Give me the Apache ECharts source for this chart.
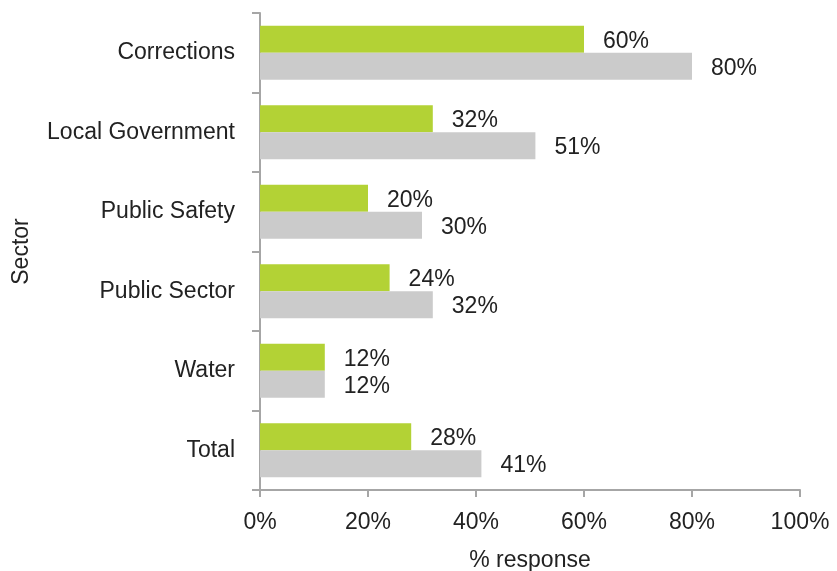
<!DOCTYPE html>
<html>
<head>
<meta charset="utf-8">
<script src="https://cdn.jsdelivr.net/npm/echarts@6/dist/echarts.min.js"></script>
<style>
  html, body { margin: 0; padding: 0; background: #fff; }
  #chart { width: 837px; height: 571px; }
</style>
</head>
<body>
<div id="chart"></div>
<script>
// Sectors, top to bottom
const sectors = ['Corrections', 'Local Government', 'Public Safety', 'Public Sector', 'Water', 'Total'];
// Percent of responses per sector, two groups
const seriesGreen = [60, 32, 20, 24, 12, 28];
const seriesGrey = [80, 51, 30, 32, 12, 41];
const xTicks = [0, 20, 40, 60, 80, 100];

const FONT = 'Liberation Sans';
const FS = 23;
const TEXT = '#222';
const AXIS = '#a6a6a6';

const chart = echarts.init(document.getElementById('chart'));

const text = { fontFamily: FONT, fontSize: FS, color: TEXT };

const labelStyle = Object.assign({
  show: true,
  position: 'right',
  distance: 19,
  offset: [0, 2],
  formatter: p => p.value + '%'
}, text);

chart.setOption({
  animation: false,
  grid: { left: 260, right: 37, top: 13, bottom: 81, containLabel: false, outerBoundsMode: 'none' },
  xAxis: {
    type: 'value',
    min: xTicks[0],
    max: xTicks[xTicks.length - 1],
    interval: 20,
    name: '% response',
    nameLocation: 'middle',
    nameGap: 59,
    nameTextStyle: text,
    axisLine: { show: true, lineStyle: { color: AXIS, width: 2 } },
    axisTick: { show: true, length: 7, lineStyle: { color: AXIS, width: 2 } },
    axisLabel: Object.assign({ margin: 21, formatter: '{value}%' }, text),
    splitLine: { show: false }
  },
  yAxis: {
    type: 'category',
    data: sectors,
    inverse: true,
    name: 'Sector',
    nameLocation: 'middle',
    nameGap: 227,
    nameTextStyle: text,
    axisLine: { show: true, lineStyle: { color: AXIS, width: 2 } },
    axisTick: { show: true, length: 8, lineStyle: { color: AXIS, width: 2 } },
    axisLabel: Object.assign({ margin: 25, padding: [8, 0, 0, 0] }, text),
    splitLine: { show: false }
  },
  series: [
    {
      type: 'bar',
      data: seriesGreen,
      itemStyle: { color: '#b3d235' },
      barGap: '0%',
      barCategoryGap: '32%',
      label: labelStyle
    },
    {
      type: 'bar',
      data: seriesGrey,
      itemStyle: { color: '#cbcbcb' },
      barGap: '0%',
      barCategoryGap: '32%',
      label: labelStyle
    }
  ]
});
</script>
</body>
</html>
